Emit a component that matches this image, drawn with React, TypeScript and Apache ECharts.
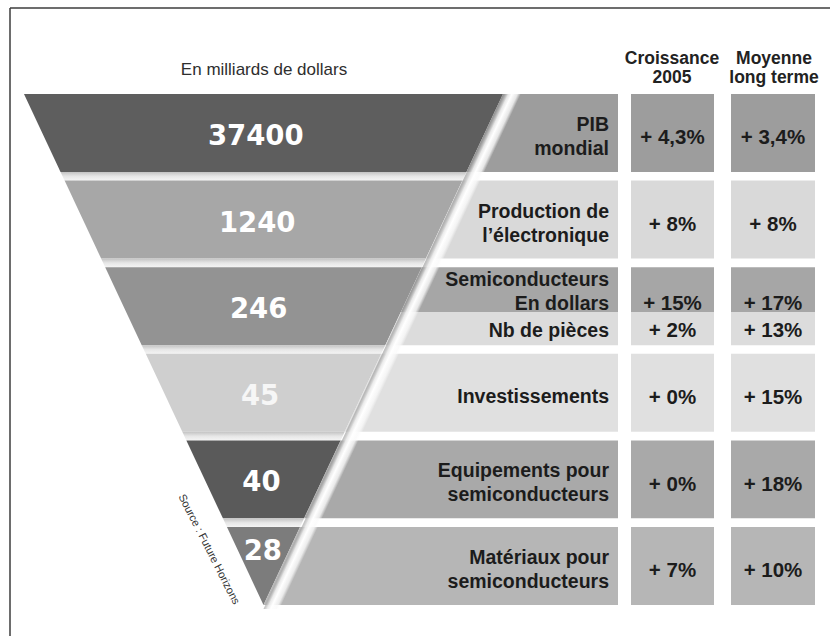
import React, { useEffect, useRef } from "react";
import * as echarts from "echarts";

// ---------- data ----------
const categories = [
  "PIB mondial",
  "Production de l'électronique",
  "Semiconducteurs",
  "Investissements",
  "Equipements pour semiconducteurs",
  "Matériaux pour semiconducteurs",
];
const rowLabelLines = [
  ["PIB", "mondial"],
  ["Production de", "l’électronique"],
  ["Semiconducteurs", "En dollars"],
  ["Investissements"],
  ["Equipements pour", "semiconducteurs"],
  ["Matériaux pour", "semiconducteurs"],
];
const marketValues = [37400, 1240, 246, 45, 40, 28];
const growth2005 = [4.3, 8, 15, 0, 0, 7];
const growthLongTerm = [3.4, 8, 17, 15, 18, 10];
const subRowLabel = "Nb de pièces";
const subRowGrowth2005 = 2;
const subRowGrowthLongTerm = 13;
const columnHeaders = ["Croissance\n2005", "Moyenne\nlong terme"];
const unitLabel = "En milliards de dollars";
const sourceLabel = "Source : Future Horizons";

// ---------- styles / layout ----------
const funnelColors = ["#5e5e5e", "#a7a7a7", "#939393", "#cfcfcf", "#5a5a5a", "#7c7c7c"];
const rowColors = ["#9d9d9d", "#d9d9d9", "#a6a6a6", "#e0e0e0", "#a9a9a9", "#b6b6b6"];
const subRowColor = "#dcdcdc";
const SPLIT_ROW = 2;
const SPLIT_RATIO = 0.575;
const BAND_RATIO = 0.9;
const CX = 263.5;
const FUNNEL_TOP_HALF = 239.5;
const LABEL_RIGHT = 618;
const TEXT_RIGHT = 609;
const COLS = [
  [631, 714],
  [731, 815],
];
const STRIPE_W = 18;
const FONT = '"Liberation Sans", Arial, Helvetica, sans-serif';
const LABEL_SIZE = 19.5;
const VALUE_SIZE = 20.5;

const fmt = (v: number) => "+ " + String(v).replace(".", ",") + "%";

export default function App() {
  const ref = useRef<HTMLDivElement>(null);

  useEffect(() => {
    const chart = echarts.init(ref.current!, null, { renderer: "svg" });
    const n = categories.length;

    const rowBox = (api: any, i: number) => {
      const c = api.coord([0, i]);
      const pitch = api.size([0, 1])[1];
      const y0 = c[1] - pitch / 2;
      const y1 = y0 + pitch * BAND_RATIO;
      return { y0, y1, pitch };
    };
    const funnelGeom = (api: any) => {
      const first = rowBox(api, 0);
      const last = rowBox(api, n - 1);
      const apexY = last.y1;
      const k = FUNNEL_TOP_HALF / (apexY - first.y0);
      return { apexY, k, topY: first.y0, half: (y: number) => Math.max(0, k * (apexY - y)) };
    };

    const boldText = (text: string, x: number, y: number, size: number, align = "center", fill = "#1c1c1c") => ({
      type: "text",
      style: {
        text,
        x,
        y,
        fill,
        font: `bold ${size}px ${FONT}`,
        align,
        verticalAlign: "middle",
      },
    });

    const valueSeries = (values: number[], subValue: number, col: number[]) => ({
      type: "custom",
      coordinateSystem: "cartesian2d",
      data: values.map((v, i) => [0, i, v]),
      encode: { x: 0, y: 1 },
      renderItem: (_p: any, api: any) => {
        const i = api.value(1) as number;
        const v = api.value(2) as number;
        const { y0, y1 } = rowBox(api, i);
        const cx = (col[0] + col[1]) / 2;
        const children: any[] = [];
        if (i === SPLIT_ROW) {
          const ys = y0 + (y1 - y0) * SPLIT_RATIO;
          children.push({ type: "rect", shape: { x: col[0], y: y0, width: col[1] - col[0], height: ys - y0 }, style: { fill: rowColors[i] } });
          children.push({ type: "rect", shape: { x: col[0], y: ys, width: col[1] - col[0], height: y1 - ys }, style: { fill: subRowColor } });
          children.push(boldText(fmt(v), cx, ys - 10, VALUE_SIZE));
          children.push(boldText(fmt(subValue), cx, (ys + y1) / 2 + 1, VALUE_SIZE));
        } else {
          children.push({ type: "rect", shape: { x: col[0], y: y0, width: col[1] - col[0], height: y1 - y0 }, style: { fill: rowColors[i] } });
          children.push(boldText(fmt(v), cx, (y0 + y1) / 2 + 4, VALUE_SIZE));
        }
        return { type: "group", children };
      },
    });

    const option: any = {
      animation: false,
      backgroundColor: "#ffffff",
      grid: { left: 0, right: 0, top: 94, height: 86.6 * 6 },
      xAxis: { type: "value", min: 0, max: 830, show: false },
      yAxis: { type: "category", data: categories, inverse: true, show: false },
      graphic: [
        { type: "line", shape: { x1: 10, y1: 8, x2: 830, y2: 8 }, style: { stroke: "#3c3c3c", lineWidth: 1.5 } },
        { type: "line", shape: { x1: 10, y1: 8, x2: 10, y2: 636 }, style: { stroke: "#3c3c3c", lineWidth: 1.5 } },
        {
          type: "text",
          x: 264,
          y: 69,
          style: { text: unitLabel, font: `17px ${FONT}`, fill: "#2e2e2e", align: "center", verticalAlign: "middle" },
        },
        {
          type: "text",
          x: 672,
          y: 67.5,
          style: { text: columnHeaders[0], font: `bold 17.5px ${FONT}`, lineHeight: 19, fill: "#222", align: "center", verticalAlign: "middle" },
        },
        {
          type: "text",
          x: 774,
          y: 67.5,
          style: { text: columnHeaders[1], font: `bold 17.5px ${FONT}`, lineHeight: 19, fill: "#222", align: "center", verticalAlign: "middle" },
        },
        {
          type: "text",
          x: 209.5,
          y: 549,
          rotation: (-63 * Math.PI) / 180,
          style: { text: sourceLabel, font: `11px ${FONT}`, fill: "#333", align: "center", verticalAlign: "middle" },
        },
      ],
      series: [
        // funnel bands
        {
          type: "custom",
          name: "Marché",
          coordinateSystem: "cartesian2d",
          data: marketValues.map((v, i) => [0, i, v]),
          encode: { x: 0, y: 1 },
          renderItem: (_p: any, api: any) => {
            const i = api.value(1) as number;
            const v = api.value(2) as number;
            const { y0, y1, pitch } = rowBox(api, i);
            const g = funnelGeom(api);
            const h0 = g.half(y0);
            const h1 = g.half(y1);
            const h2 = g.half(y0 + pitch);
            const isLast = i === n - 1;
            const children: any[] = [
              {
                type: "polygon",
                shape: { points: [[CX - h0, y0], [CX + h0, y0], [CX + h1, y1], [CX - h1, y1]] },
                style: { fill: funnelColors[i] },
              },
            ];
            if (!isLast) {
              children.push({
                type: "polygon",
                shape: { points: [[CX - h1, y1], [CX + h1, y1], [CX + h2, y0 + pitch], [CX - h2, y0 + pitch]] },
                style: {
                  fill: {
                    type: "linear",
                    x: 0,
                    y: 0,
                    x2: 0,
                    y2: 1,
                    colorStops: [
                      { offset: 0, color: "#c2c2c2" },
                      { offset: 0.5, color: "#e6e6e6" },
                      { offset: 1, color: "#f4f4f4" },
                    ],
                  },
                },
              });
            }
            const hm = g.half((y0 + y1) / 2);
            children.push({
              type: "text",
              style: {
                text: String(v),
                x: CX - 0.035 * hm,
                y: isLast ? y0 + (y1 - y0) * 0.3 : (y0 + y1) / 2 + 2,
                fill: i === 3 ? "#f6f6f6" : "#ffffff",
                font: 'bold 27.5px "DejaVu Sans", sans-serif',
                align: "center",
                verticalAlign: "middle",
              },
            });
            return { type: "group", children };
          },
        },
        // row label cells
        {
          type: "custom",
          name: "Secteur",
          coordinateSystem: "cartesian2d",
          data: categories.map((_c, i) => [0, i]),
          encode: { x: 0, y: 1 },
          renderItem: (_p: any, api: any) => {
            const i = api.value(1) as number;
            const { y0, y1 } = rowBox(api, i);
            const g = funnelGeom(api);
            const xl0 = CX + g.half(y0);
            const xl1 = CX + g.half(y1);
            const lines = rowLabelLines[i];
            const children: any[] = [];
            if (i === SPLIT_ROW) {
              const ys = y0 + (y1 - y0) * SPLIT_RATIO;
              const xls = CX + g.half(ys);
              children.push({ type: "polygon", shape: { points: [[xl0, y0], [LABEL_RIGHT, y0], [LABEL_RIGHT, ys], [xls, ys]] }, style: { fill: rowColors[i] } });
              children.push({ type: "polygon", shape: { points: [[xls, ys], [LABEL_RIGHT, ys], [LABEL_RIGHT, y1], [xl1, y1]] }, style: { fill: subRowColor } });
              children.push(boldText(lines[0], TEXT_RIGHT, y0 + 12, LABEL_SIZE, "right"));
              children.push(boldText(lines[1], TEXT_RIGHT, ys - 9, LABEL_SIZE, "right"));
              children.push(boldText(subRowLabel, TEXT_RIGHT, (ys + y1) / 2 + 1, LABEL_SIZE, "right"));
            } else {
              children.push({ type: "polygon", shape: { points: [[xl0, y0], [LABEL_RIGHT, y0], [LABEL_RIGHT, y1], [xl1, y1]] }, style: { fill: rowColors[i] } });
              const mid = (y0 + y1) / 2 + 3;
              const lh = 24;
              lines.forEach((t, j) => {
                children.push(boldText(t, TEXT_RIGHT, mid + (j - (lines.length - 1) / 2) * lh, LABEL_SIZE, "right"));
              });
            }
            return { type: "group", children };
          },
        },
        // highlight stripe along funnel edge
        {
          type: "custom",
          name: "edge",
          coordinateSystem: "cartesian2d",
          data: [[0, 0]],
          encode: { x: 0, y: 1 },
          renderItem: (_p: any, api: any) => {
            const g = funnelGeom(api);
            const yT = g.topY;
            const yB = g.apexY + 4;
            const xT = CX + g.half(yT);
            const xB = CX + g.half(yB);
            const f = STRIPE_W / (1 + g.k * g.k);
            return {
              type: "polygon",
              shape: { points: [[xT, yT], [xT + STRIPE_W, yT], [xB + STRIPE_W, yB], [xB, yB]] },
              style: {
                fill: {
                  type: "linear",
                  global: true,
                  x: xT,
                  y: yT,
                  x2: xT + f,
                  y2: yT + f * g.k,
                  colorStops: [
                    { offset: 0, color: "rgba(130,130,130,0.55)" },
                    { offset: 0.3, color: "rgba(235,235,235,0.95)" },
                    { offset: 0.5, color: "rgba(255,255,255,1)" },
                    { offset: 0.8, color: "rgba(250,250,250,0.8)" },
                    { offset: 1, color: "rgba(255,255,255,0)" },
                  ],
                },
              },
            };
          },
        },
        valueSeries(growth2005, subRowGrowth2005, COLS[0]),
        valueSeries(growthLongTerm, subRowGrowthLongTerm, COLS[1]),
      ],
    };

    chart.setOption(option);
    return () => chart.dispose();
  }, []);

  return <div ref={ref} style={{ position: "absolute", left: 0, top: 0, width: 830, height: 636 }} />;
}
